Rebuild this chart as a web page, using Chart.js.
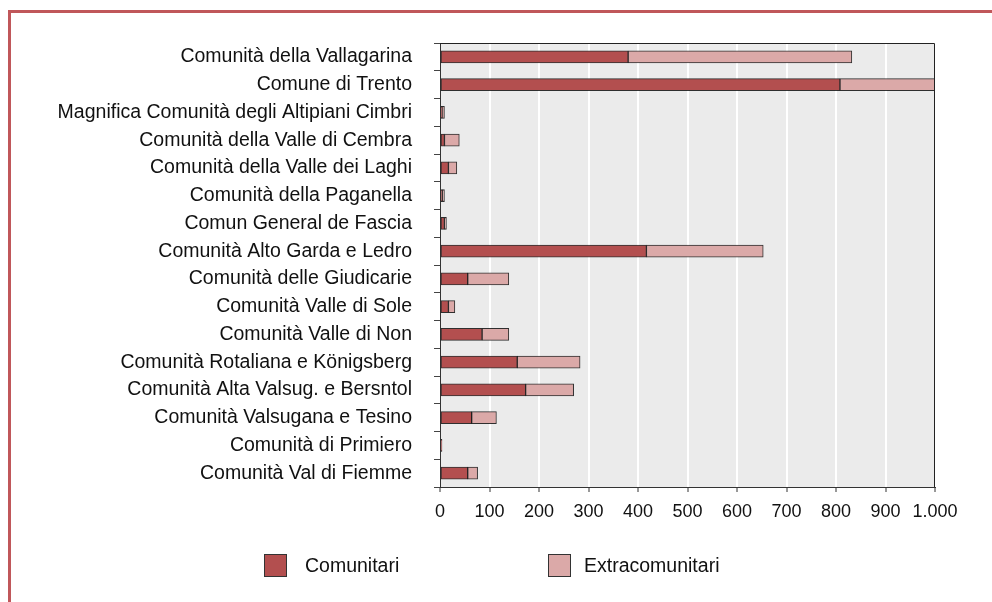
<!DOCTYPE html>
<html>
<head>
<meta charset="utf-8">
<script src="https://cdn.jsdelivr.net/npm/chart.js@4"></script>
<style>
  body { margin: 0; background: #fff; font-family: "Liberation Sans", Arial, sans-serif; }
  #wrap { position: relative; width: 992px; height: 602px; overflow: hidden; }
  #cornice { position: absolute; left: 8px; top: 10px; width: 1000px; height: 600px;
    border-top: 3px solid #c0575a; border-left: 3px solid #c0575a; }
  #grafico { position: absolute; left: 0; top: 0; }
  .leg { position: absolute; top: 554px; font-size: 19.5px; color: #111; }
  .leg span.box { position: absolute; left: 0; top: 0; width: 21px; height: 21px; border: 1px solid #333; }
  .leg span.txt { position: absolute; top: 0; line-height: 23px; white-space: nowrap; }
</style>
</head>
<body>
<div id="wrap">
  <div id="cornice"></div>
  <canvas id="grafico" width="992" height="602"></canvas>
  <div class="leg" style="left:264px"><span class="box" style="background:#b34f4f"></span><span class="txt" style="left:41px">Comunitari</span></div>
  <div class="leg" style="left:548px"><span class="box" style="background:#dba9a8"></span><span class="txt" style="left:36px">Extracomunitari</span></div>
</div>
<script>
//categorie
const comunita = [
  "Comunità della Vallagarina",
  "Comune di Trento",
  "Magnifica Comunità degli Altipiani Cimbri",
  "Comunità della Valle di Cembra",
  "Comunità della Valle dei Laghi",
  "Comunità della Paganella",
  "Comun General de Fascia",
  "Comunità Alto Garda e Ledro",
  "Comunità delle Giudicarie",
  "Comunità Valle di Sole",
  "Comunità Valle di Non",
  "Comunità Rotaliana e Königsberg",
  "Comunità Alta Valsug. e Bersntol",
  "Comunità Valsugana e Tesino",
  "Comunità di Primiero",
  "Comunità Val di Fiemme"
];
//valori
const comunitari = [380, 808, 4, 9, 17, 5, 9, 417, 56, 17, 85, 156, 173, 64, 3, 56];
const extracomunitari = [452, 192, 5, 30, 17, 4, 4, 236, 83, 13, 54, 127, 97, 50, 1, 20];
//tick asse x
const tickX = [0, 100, 200, 300, 400, 500, 600, 700, 800, 900, 1000];

const fontLabel = { family: '"Liberation Sans", Arial, sans-serif', size: 19.5 };
const fontTick = { family: '"Liberation Sans", Arial, sans-serif', size: 18 };

//sfondo grigio e bordo del grafico
const sfondo = {
  id: "sfondo",
  beforeDraw(chart) {
    const { ctx, chartArea: a } = chart;
    ctx.save();
    ctx.fillStyle = "#ebebeb";
    ctx.fillRect(a.left, a.top, a.right - a.left, a.bottom - a.top);
    ctx.restore();
  },
  afterDatasetsDraw(chart) {
    const { ctx, chartArea: a } = chart;
    ctx.save();
    ctx.strokeStyle = "#222";
    ctx.lineWidth = 1;
    ctx.beginPath();
    ctx.moveTo(a.left, a.top + 0.5);
    ctx.lineTo(a.right - 0.5, a.top + 0.5);
    ctx.lineTo(a.right - 0.5, a.bottom);
    ctx.stroke();
    ctx.restore();
  }
};

const datasets = [
  {
    label: "Comunitari",
    data: comunitari,
    backgroundColor: "#b34f4f",
    borderColor: "rgba(0,0,0,0.8)",
    borderWidth: 1,
    borderSkipped: false,
    barThickness: 12
  },
  {
    label: "Extracomunitari",
    data: extracomunitari,
    backgroundColor: "#dba9a8",
    borderColor: "rgba(0,0,0,0.8)",
    borderWidth: 1,
    borderSkipped: false,
    barThickness: 12
  }
];

const config = {
  type: "bar",
  data: { labels: comunita, datasets },
  plugins: [sfondo],
  options: {
    indexAxis: "y",
    responsive: false,
    animation: false,
    layout: { padding: { top: 43, right: 57, left: 0, bottom: 0 } },
    plugins: { legend: { display: false }, tooltip: { enabled: false } },
    scales: {
      x: {
        stacked: true,
        min: 0,
        max: 1000,
        afterFit: (s) => { s.height = 115; },
        afterBuildTicks: (s) => { s.ticks = tickX.map((v) => ({ value: v })); },
        ticks: {
          color: "#111",
          font: fontTick,
          padding: 9,
          maxRotation: 0,
          callback: (v) => (v === 1000 ? "1.000" : String(v))
        },
        grid: { color: "#ffffff", lineWidth: 2, tickColor: "#333", tickLength: 5, tickWidth: 1 },
        border: { display: true, color: "#333", width: 1 }
      },
      y: {
        stacked: true,
        afterFit: (s) => { s.width = 440; },
        ticks: { color: "#111", font: fontLabel, padding: 22, autoSkip: false },
        grid: { offset: true, drawOnChartArea: false, tickColor: "#444", tickLength: 6 },
        border: { display: true, color: "#333", width: 1 }
      }
    }
  }
};

const chart = new Chart(document.getElementById("grafico"), config);
</script>
</body>
</html>
